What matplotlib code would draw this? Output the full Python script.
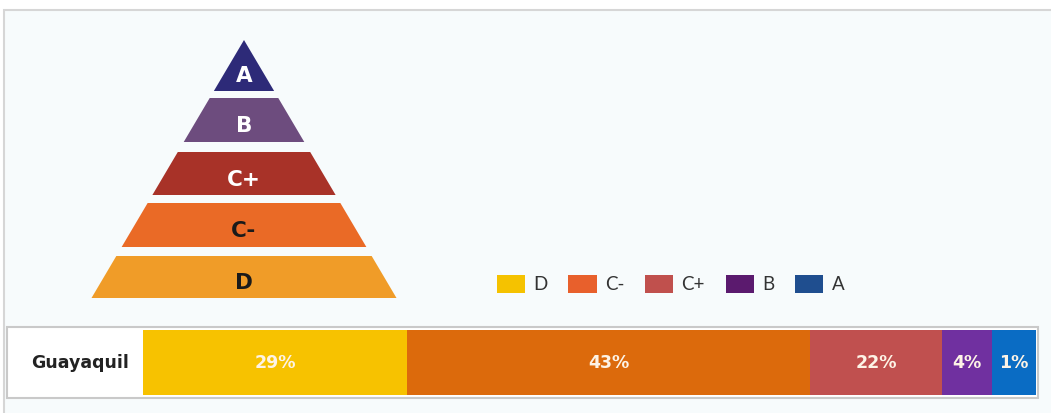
import matplotlib.pyplot as plt
from matplotlib.patches import Polygon, Rectangle, Patch

plt.rcParams['font.family'] = ['Lato', 'DejaVu Sans']

# pyramid levels, bottom to top
levels = ['D', 'C-', 'C+', 'B', 'A']
pyr_colors = ['#f09c28', '#ea6a26', '#a83228', '#6d4c7e', '#2d2a78']
pyr_text = ['#1a1a1a', '#1a1a1a', 'white', 'white', 'white']

# stacked bar for Guayaquil
city = 'Guayaquil'
seg_labels = ['29%', '43%', '22%', '4%', '1%']
seg_width = [29.6, 45.1, 14.8, 5.6, 4.9]   # drawn widths
bar_colors = ['#f7c200', '#dc6a0c', '#c0504f', '#7030a0', '#0a6cc4']
legend_colors = ['#f5c200', '#e8602c', '#c0504d', '#5b1a6e', '#1f4e8f']

W, H = 1051, 413
fig = plt.figure(figsize=(W / 100, H / 100), dpi=100)
ax = fig.add_axes([0, 0, 1, 1])
ax.set_xlim(0, W)
ax.set_ylim(H, 0)
ax.axis('off')

# outer panel
ax.add_patch(Rectangle((4, 10), W + 20, H + 20, facecolor='#f7fbfc',
                       edgecolor='#d6d6d6', lw=1.5))

# pyramid: apex, base and band layout in pixels
cx, apex_y, base_y, base_half = 244, 40, 298, 152.5
band_top = [256, 203, 152, 98, 40]
band_bot = [298, 247, 195, 142, 91]

def half(y):
    return base_half * (y - apex_y) / (base_y - apex_y)

for lvl, c, tc, t, b in zip(levels, pyr_colors, pyr_text, band_top, band_bot):
    pts = [(cx - half(b), b), (cx + half(b), b), (cx + half(t), t), (cx - half(t), t)]
    ax.add_patch(Polygon(pts, closed=True, facecolor=c, edgecolor='none'))
    ty = (t + b) / 2 + (11 if lvl == 'A' else 6)
    ax.text(cx, ty, lvl, ha='center', va='center', fontsize=15.5,
            fontweight='bold', color=tc, family='DejaVu Sans')

# legend
handles = [Patch(facecolor=c, edgecolor='none', label=l)
           for l, c in zip(levels, legend_colors)]
ax.legend(handles=handles, ncol=5, frameon=False, fontsize=13.5,
          loc='center left', bbox_to_anchor=(497 / W, 1 - 284 / H),
          bbox_transform=fig.transFigure, handlelength=1.5, handleheight=1.15,
          handletextpad=0.45, columnspacing=1.1, labelcolor='#333333',
          borderaxespad=0, borderpad=0)

# bar outline and city label
ax.add_patch(Rectangle((7, 327), 1038 - 7, 71, facecolor='white',
                       edgecolor='#c9c9c9', lw=1.5))
ax.text(80, 363, city, ha='center', va='center', fontsize=12.5,
        fontweight='bold', color='#222222', family='DejaVu Sans')

bax = fig.add_axes([143 / W, 1 - 395 / H, (1036 - 143) / W, 65 / H])
left = 0
for lab, w, c in zip(seg_labels, seg_width, bar_colors):
    bax.barh(0, w, left=left, height=1, color=c, edgecolor='none')
    bax.text(left + w / 2, 0, lab, ha='center', va='center', fontsize=12.5,
             fontweight='bold', color='#fdf3e6', family='DejaVu Sans')
    left += w
bax.set_xlim(0, sum(seg_width))
bax.set_ylim(-0.5, 0.5)
bax.axis('off')

fig.savefig('out.png', dpi=100)
